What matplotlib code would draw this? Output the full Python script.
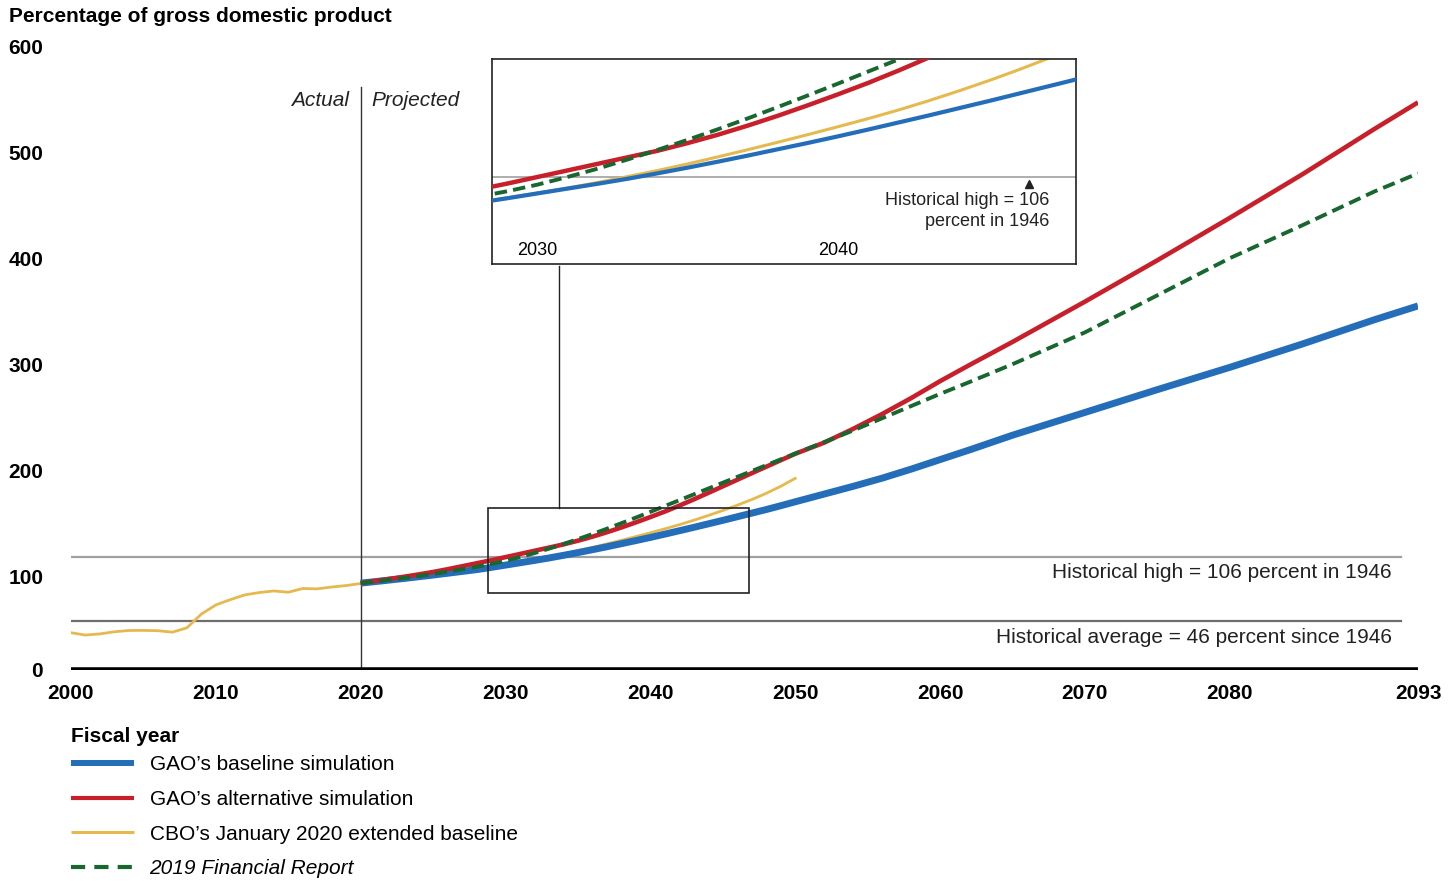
import matplotlib.pyplot as plt
from matplotlib.patches import Rectangle
from matplotlib.lines import Line2D

plt.rcParams['font.family'] = ['Liberation Sans', 'DejaVu Sans']

# debt held by the public, percent of GDP
cbo_years = list(range(2000, 2051))
cbo_values = [34.7, 32.5, 33.6, 35.6, 36.8, 36.9, 36.6, 35.2, 39.3, 52.3,
              60.9, 65.9, 70.4, 72.6, 74.1, 72.9, 76.4, 76.1, 77.8, 79.2,
              81.1, 82.3, 83.7, 85.2, 86.8, 88.5, 90.3, 92.3, 94.4, 96.5,
              98.7, 101.0, 103.5, 106.2, 109.0, 112.0, 115.2, 118.5, 121.9, 125.4,
              129.0, 132.7, 136.6, 140.8, 145.3, 150.0, 155.0, 160.3, 166.2, 172.8, 180.3]

proj_years = list(range(2020, 2051)) + [2052, 2054, 2056, 2058, 2060, 2062, 2065,
                                        2070, 2075, 2080, 2085, 2090, 2093]
gao_baseline = [81.5, 82.9, 84.4, 85.9, 87.5, 89.1, 90.8, 92.5, 94.2, 96.3,
                98.5, 100.7, 102.9, 105.2, 107.7, 110.3, 113.0, 115.8, 118.7, 121.6,
                124.6, 127.7, 130.9, 134.1, 137.4, 140.7, 144.1, 147.5, 150.9, 154.5, 158.2,
                165.5, 172.8, 180.5, 189.0, 198.0, 207.0, 221.0,
                242.5, 264.0, 285.0, 307.0, 330.0, 343.0]
gao_alternative = [81.5, 83.5, 85.5, 87.5, 89.7, 92.0, 94.6, 97.4, 100.2, 103.0,
                   106.0, 109.0, 112.0, 115.0, 118.0, 121.5, 125.3, 129.5, 134.0, 138.8,
                   143.8, 149.0, 154.6, 160.5, 166.6, 172.8, 179.0, 185.2, 191.3, 197.4, 203.5,
                   214.0, 227.0, 241.0, 256.0, 272.0, 287.0, 309.0,
                   347.0, 386.0, 426.0, 467.0, 510.0, 535.0]
fin_report_2019 = [81.5, 83.0, 84.6, 86.3, 88.1, 90.1, 92.3, 94.5, 96.9, 99.5,
                   102.5, 106.0, 109.8, 114.0, 118.4, 123.0, 127.8, 132.8, 138.0, 143.3,
                   148.7, 154.2, 159.7, 165.2, 170.7, 176.2, 181.7, 187.2, 192.7, 198.2, 203.7,
                   214.5, 225.5, 237.0, 248.5, 260.0, 271.0, 288.0,
                   318.0, 353.0, 388.0, 419.0, 451.0, 468.0]

hist_high = 106
hist_avg = 46

x_ticks = [2000, 2010, 2020, 2030, 2040, 2050, 2060, 2070, 2080, 2093]
y_ticks = [0, 100, 200, 300, 400, 500, 600]
inset_ticks = [2030, 2040]

BLUE = '#246eb9'
RED = '#c8202a'
YELLOW = '#e6b94f'
GREEN = '#17672f'

fig = plt.figure(figsize=(14.56, 8.81), dpi=100)
ax = fig.add_axes([71 / 1456, 211.5 / 881, 1347 / 1456, 636 / 881])


def draw_series(a, blue_lw, red_lw, yellow_lw, green_lw):
    a.plot(cbo_years, cbo_values, color=YELLOW, lw=yellow_lw, zorder=2)
    a.plot(proj_years, gao_baseline, color=BLUE, lw=blue_lw, solid_capstyle='butt', zorder=3)
    a.plot(proj_years, gao_alternative, color=RED, lw=red_lw, solid_capstyle='butt', zorder=5)
    a.plot(proj_years, fin_report_2019, color=GREEN, lw=green_lw, dashes=(3.2, 1.6), zorder=6)


draw_series(ax, 5.0, 3.3, 2.0, 2.8)

ax.axhline(hist_high, xmin=0, xmax=(2091.8 - 2000) / 93, color='#a0a0a0', lw=1.6, zorder=1)
ax.axhline(hist_avg, xmin=0, xmax=(2091.8 - 2000) / 93, color='#6e6e6e', lw=1.6, zorder=1)
ax.axhline(0, color='black', lw=4, zorder=7, solid_capstyle='butt')
ax.plot([2020, 2020], [0, 550], color='#333333', lw=1.0, zorder=2)

ax.annotate('Actual', (2020, 537), xytext=(-8.5, 0), textcoords='offset points',
            ha='right', va='center', style='italic', fontsize=15, color='#222222')
ax.annotate('Projected', (2020, 537), xytext=(8, 0), textcoords='offset points',
            ha='left', va='center', style='italic', fontsize=15, color='#222222')

ax.text(2091.2, 91.5, 'Historical high = 106 percent in 1946', ha='right', va='center',
        fontsize=15, color='#222222')
ax.text(2091.2, 30, 'Historical average = 46 percent since 1946', ha='right', va='center',
        fontsize=15, color='#222222')

# zoom box and connector
ax.add_patch(Rectangle((2028.8, 71.7), 18.0, 81.1, fill=False, ec='#222222', lw=1.2, zorder=8))
ax.plot([2033.7, 2033.7], [152.8, 381], color='#222222', lw=1.0, zorder=8)

ax.set_xlim(2000, 2093)
ax.set_ylim(0, 600)
for s in ax.spines.values():
    s.set_visible(False)
ax.set_xticks(x_ticks)
ax.set_xticklabels([str(t) for t in x_ticks], fontweight='bold', fontsize=15)
ax.tick_params(axis='x', length=0, pad=10.5)
ax.set_yticks([])
for t in y_ticks:
    off = -1.5 if t == 0 else -11
    ax.annotate(str(t), (0, t), xycoords=('axes fraction', 'data'), xytext=(-20, off),
                textcoords='offset points', ha='right', va='center', fontsize=15,
                fontweight='bold', annotation_clip=False)

fig.text(9 / 1456, 1 - 16 / 881, 'Percentage of gross domestic product', ha='left', va='center',
         fontsize=15, fontweight='bold')

# inset
ins = fig.add_axes([492 / 1456, 1 - 264 / 881, 584 / 1456, 205 / 881])
draw_series(ins, 3.0, 3.2, 2.2, 2.8)
ins.axhline(hist_high, color='#a0a0a0', lw=1.2, zorder=1)
ins.set_xlim(2028.5, 2047.9)
ins.set_ylim(66.3, 159.9)
ins.set_yticks([])
ins.set_xticks(inset_ticks)
ins.set_xticklabels([str(t) for t in inset_ticks], fontsize=13)
ins.tick_params(axis='x', length=0, pad=-15.5)
for s in ins.spines.values():
    s.set_color('#222222')
    s.set_linewidth(1.2)
ins.plot([2046.35], [103], marker='^', color='#222222', ms=6, zorder=9)
ins.text(2047.0, 99.0, 'Historical high = 106\npercent in 1946', ha='right', va='top',
         fontsize=13, linespacing=1.25, color='#222222')

# legend
fig.text(71 / 1456, 1 - 736 / 881, 'Fiscal year', ha='left', va='center',
         fontsize=15, fontweight='bold')
handles = [Line2D([], [], color=BLUE, lw=4.3, solid_capstyle='butt'),
           Line2D([], [], color=RED, lw=3.0, solid_capstyle='butt'),
           Line2D([], [], color=YELLOW, lw=2.2, solid_capstyle='butt'),
           Line2D([], [], color=GREEN, lw=3.0, dashes=(3.4, 2.2))]
labels = ['GAO\u2019s baseline simulation', 'GAO\u2019s alternative simulation',
          'CBO\u2019s January 2020 extended baseline', '2019 Financial Report']
leg = fig.legend(handles, labels, loc='upper left', bbox_to_anchor=(71 / 1456, 1 - 755 / 881),
                 frameon=False, fontsize=15,
                 borderpad=0, borderaxespad=0, handlelength=3.0, handletextpad=0.77,
                 labelspacing=0.76)
leg.get_texts()[3].set_style('italic')

fig.savefig('out.png', dpi=100)
